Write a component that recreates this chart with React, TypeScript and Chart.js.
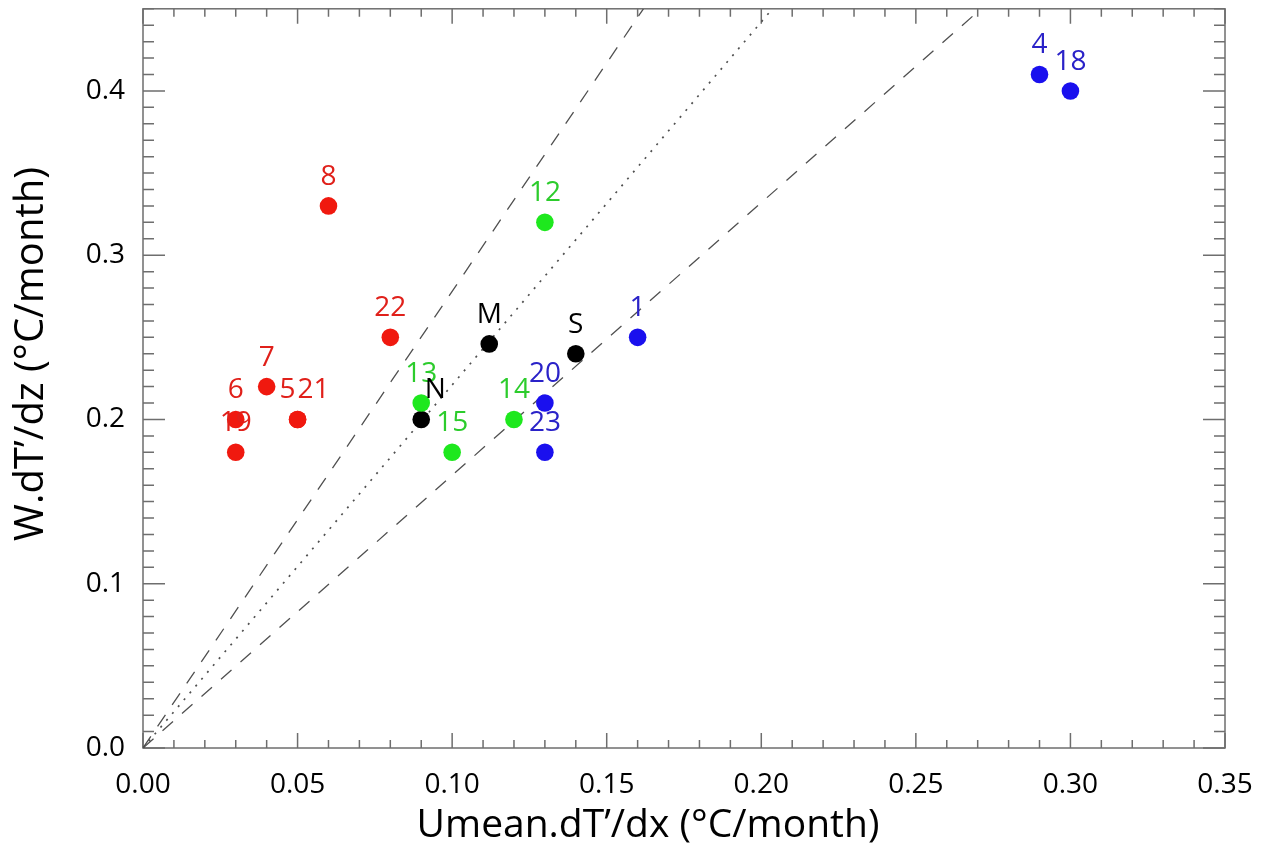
import React, { useEffect, useRef } from "react";
import { Chart, registerables } from "chart.js";

Chart.register(...registerables);

// ---- data ----
const redLabels = ["8", "22", "7", "6", "19", "5", "21"];
const redX = [0.06, 0.08, 0.04, 0.03, 0.03, 0.05, 0.05];
const redY = [0.33, 0.25, 0.22, 0.2, 0.18, 0.2, 0.2];

const greenLabels = ["12", "13", "14", "15"];
const greenX = [0.13, 0.09, 0.12, 0.1];
const greenY = [0.32, 0.21, 0.2, 0.18];

const blueLabels = ["1", "20", "23", "4", "18"];
const blueX = [0.16, 0.13, 0.13, 0.29, 0.3];
const blueY = [0.25, 0.21, 0.18, 0.41, 0.4];

const blackLabels = ["N", "M", "S"];
const blackX = [0.09, 0.112, 0.14];
const blackY = [0.2, 0.246, 0.24];

// slopes of the reference lines through the origin (steep dashed, dotted, shallow dashed)
const lineSlopes = [2.78, 2.21, 1.66];

const xMin = 0;
const xMax = 0.35;
const yMin = 0;
const yMax = 0.45;

const xTitle = "Umean.dT\u2019/dx (\u00B0C/month)";
const yTitle = "W.dT\u2019/dz (\u00B0C/month)";

// ---- style ----
const FONT = '"Open Sans", "DejaVu Sans", sans-serif';
const labelNudge: Record<string, number> = { "5": -10, "21": 16, N: 14 };

const groups = [
  { labels: redLabels, xs: redX, ys: redY, point: "#f0190f", text: "#e0201a" },
  { labels: greenLabels, xs: greenX, ys: greenY, point: "#1ee81e", text: "#2ccc2c" },
  { labels: blueLabels, xs: blueX, ys: blueY, point: "#1a10ee", text: "#2a22c8" },
  { labels: blackLabels, xs: blackX, ys: blackY, point: "#000000", text: "#000000" },
];

const lineDashes = [[14, 12], [2, 7], [14, 12]];
const lineWidths = [1.3, 1.7, 1.3];

const framePlugin = {
  id: "idlFrame",
  beforeDatasetsDraw(chart: any) {
    const { ctx, chartArea, scales } = chart;
    const { left, right, top, bottom } = chartArea;
    const x = scales.x;
    const y = scales.y;
    ctx.save();
    ctx.strokeStyle = "#6e6e6e";
    ctx.lineWidth = 1.5;
    ctx.strokeRect(left, top, right - left, bottom - top);
    ctx.beginPath();
    x.ticks.forEach((t: any) => {
      const px = x.getPixelForValue(t.value);
      const len = t.label !== "" ? 15 : 8;
      ctx.moveTo(px, bottom);
      ctx.lineTo(px, bottom - len);
      ctx.moveTo(px, top);
      ctx.lineTo(px, top + len);
    });
    y.ticks.forEach((t: any) => {
      const py = y.getPixelForValue(t.value);
      const len = t.label !== "" ? 22 : 11;
      ctx.moveTo(left, py);
      ctx.lineTo(left + len, py);
      ctx.moveTo(right, py);
      ctx.lineTo(right - len, py);
    });
    ctx.stroke();
    ctx.restore();
  },
  afterDatasetsDraw(chart: any) {
    const { ctx } = chart;
    ctx.save();
    ctx.font = `28px ${FONT}`;
    ctx.textAlign = "center";
    ctx.textBaseline = "middle";
    chart.data.datasets.forEach((ds: any, i: number) => {
      if (!ds.pointTexts) return;
      const meta = chart.getDatasetMeta(i);
      ctx.fillStyle = ds.textColor;
      meta.data.forEach((el: any, j: number) => {
        const txt = ds.pointTexts[j];
        const dx = labelNudge[txt] || 0;
        ctx.fillText(txt, el.x + dx, el.y - 29);
      });
    });
    ctx.restore();
  },
  afterDraw(chart: any) {
    const { ctx } = chart;
    ctx.save();
    ctx.fillStyle = "#000";
    ctx.textAlign = "center";
    ctx.textBaseline = "middle";
    ctx.font = `39px ${FONT}`;
    ctx.fillText(xTitle, 648, 826);
    ctx.font = `40px ${FONT}`;
    ctx.translate(32, 354);
    ctx.rotate(-Math.PI / 2);
    ctx.fillText(yTitle, 0, 0);
    ctx.restore();
  },
};

export default function App() {
  const ref = useRef<HTMLCanvasElement>(null);

  useEffect(() => {
    if (!ref.current) return;
    const lineSets = lineSlopes.map((s, i) => ({
      type: "line" as const,
      data: [
        { x: 0, y: 0 },
        { x: yMax / s, y: yMax },
      ],
      borderColor: "#505050",
      borderWidth: lineWidths[i],
      borderDash: lineDashes[i],
      pointRadius: 0,
      showLine: true,
      fill: false,
      order: 10,
    }));
    const pointSets = groups.map((g) => ({
      type: "scatter" as const,
      data: g.xs.map((xv, k) => ({ x: xv, y: g.ys[k] })),
      pointTexts: g.labels,
      textColor: g.text,
      backgroundColor: g.point,
      borderColor: g.point,
      pointRadius: 8.8,
      pointBorderWidth: 0,
      order: 1,
    }));

    const chart = new Chart(ref.current, {
      type: "scatter",
      data: { datasets: [...pointSets, ...lineSets] as any },
      options: {
        animation: false,
        responsive: false,
        devicePixelRatio: 1,
        layout: { padding: { top: 7, right: 38, left: 0, bottom: 0 } },
        plugins: { legend: { display: false }, tooltip: { enabled: false } },
        scales: {
          x: {
            type: "linear",
            min: xMin,
            max: xMax,
            grid: { display: false },
            border: { display: false },
            ticks: {
              stepSize: 0.01,
              maxTicksLimit: 200,
              autoSkip: false,
              maxRotation: 0,
              padding: 12,
              color: "#000",
              font: { family: FONT, size: 28 },
              callback: (v: any) => {
                const n = Math.round(Number(v) * 100);
                return n % 5 === 0 ? (n / 100).toFixed(2) : "";
              },
            },
            afterFit: (s: any) => {
              s.height = 106;
              s.paddingLeft = 0;
              s.paddingRight = 0;
            },
          },
          y: {
            type: "linear",
            min: yMin,
            max: yMax,
            grid: { display: false },
            border: { display: false },
            ticks: {
              stepSize: 0.01,
              maxTicksLimit: 200,
              autoSkip: false,
              padding: 10,
              color: "#000",
              font: { family: FONT, size: 28 },
              callback: (v: any) => {
                const n = Math.round(Number(v) * 100);
                return n % 10 === 0 ? (n / 100).toFixed(1) : "";
              },
            },
            afterFit: (s: any) => {
              s.width = 143;
              s.paddingTop = 0;
              s.paddingBottom = 0;
            },
          },
        },
      },
      plugins: [framePlugin],
    });
    return () => chart.destroy();
  }, []);

  return (
    <div style={{ position: "absolute", left: 0, top: 0, width: 1263, height: 854, background: "#fff" }}>
      <canvas ref={ref} width={1263} height={854} />
    </div>
  );
}
